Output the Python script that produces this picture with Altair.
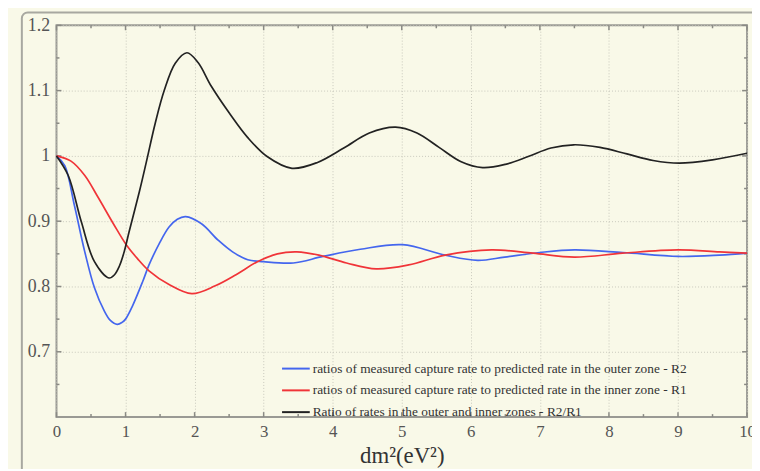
import altair as alt
import pandas as pd

# ---- data ----
x_r2 = [0, 0.12, 0.26, 0.41, 0.55, 0.69, 0.78, 0.88, 0.95, 1.0, 1.1, 1.25, 1.34, 1.49, 1.63, 1.75, 1.87, 2.1, 2.34, 2.55,
        2.77, 3.0, 3.43, 3.86, 4.4, 5.01, 5.63, 6.1, 6.49, 7.0, 7.5, 8.2, 9.0, 9.6, 10]
y_r2 = [1.0, 0.985, 0.924, 0.853, 0.798, 0.763, 0.748, 0.742, 0.745, 0.750, 0.770, 0.808, 0.833, 0.866, 0.891, 0.903, 0.907, 0.896, 0.871, 0.853,
        0.841, 0.838, 0.836, 0.846, 0.857, 0.864, 0.848, 0.840, 0.845, 0.852, 0.856, 0.852, 0.846, 0.848, 0.851]

x_r1 = [0, 0.21, 0.41, 0.6, 0.83, 1.01, 1.17, 1.34, 1.63, 1.96, 2.3, 2.6, 2.91, 3.2, 3.48, 3.8, 4.2, 4.63,
        5.1, 5.63, 6.3, 6.9, 7.5, 8.2, 9.0, 9.6, 10]
y_r1 = [1.0, 0.992, 0.970, 0.937, 0.895, 0.864, 0.843, 0.824, 0.803, 0.789, 0.801, 0.818, 0.838, 0.850, 0.853, 0.848, 0.836, 0.827,
        0.833, 0.848, 0.856, 0.851, 0.845, 0.851, 0.856, 0.853, 0.851]

x_ratio = [0, 0.17, 0.36, 0.55, 0.76, 0.84, 0.91, 0.98, 1.05, 1.2, 1.3, 1.43, 1.56, 1.72, 1.89, 2.05, 2.24, 2.5, 2.77,
           3.05, 3.41, 3.78, 4.16, 4.53, 4.91, 5.22, 5.54, 5.86, 6.17, 6.5, 6.83, 7.16, 7.49, 7.87, 8.26, 8.64,
           9.02, 9.5, 10]
y_ratio = [1.0, 0.970, 0.899, 0.838, 0.813, 0.818, 0.831, 0.853, 0.883, 0.945, 0.990, 1.050, 1.10, 1.142, 1.158, 1.143, 1.107, 1.066, 1.028,
           0.999, 0.981, 0.990, 1.012, 1.035, 1.044, 1.035, 1.013, 0.991, 0.982, 0.987, 0.999, 1.012, 1.017, 1.013, 1.003, 0.993,
           0.989, 0.994, 1.004]

series_names = [
    "ratios of measured capture rate to predicted rate in the outer zone - R2",
    "ratios of measured capture rate to predicted rate in the inner zone - R1",
    "Ratio of rates in the outer and inner zones - R2/R1",
]
series_colors = ["#4466ee", "#f03438", "#222222"]

x_major = [0, 1, 2, 3, 4, 5, 6, 7, 8, 9, 10]
x_minor = [0.5, 1.5, 2.5, 3.5, 4.5, 5.5, 6.5, 7.5, 8.5, 9.5]
y_major = [0.7, 0.8, 0.9, 1.0, 1.1, 1.2]
y_minor = [0.65, 0.75, 0.85, 0.95, 1.05, 1.15]

W, H = 698, 396

frames = []
for name, xs, ys in zip(series_names, [x_r2, x_r1, x_ratio], [y_r2, y_r1, y_ratio]):
    frames.append(pd.DataFrame({"x": xs, "y": ys, "series": name}))
df = pd.concat(frames, ignore_index=True)

xscale = alt.Scale(domain=[0, 10], nice=False, zero=False)
yscale = alt.Scale(domain=[0.6, 1.2], nice=False, zero=False)
serif = "Liberation Serif"

frame = alt.Chart(pd.DataFrame({"a": [0]})).mark_rect(
    filled=False, stroke="#a8a8a0", strokeWidth=2, cornerRadius=6
).encode(x=alt.value(-35), x2=alt.value(760), y=alt.value(-13), y2=alt.value(520))

lines = alt.Chart(df).mark_line(strokeWidth=1.7, interpolate="catmull-rom").encode(
    x=alt.X("x:Q", scale=xscale, axis=alt.Axis(
        values=x_major, title="dm²(eV²)", format="~g", labelFlush=False, grid=True, ticks=False, tickSize=0,
        labelFont=serif, labelFontSize=17, labelColor="#555", labelPadding=7,
        titleFont=serif, titleFontSize=23, titleFontWeight="normal", titleColor="#333", titlePadding=5,
        gridColor="#c8c8bc", gridDash=[1, 2], gridWidth=1, domain=False)),
    y=alt.Y("y:Q", scale=yscale, axis=alt.Axis(
        values=y_major, title=None, format="~g", labelFlush=False, grid=True, ticks=False, tickSize=0,
        labelFont=serif, labelFontSize=18, labelColor="#555", labelPadding=7,
        gridColor="#c8c8bc", gridDash=[1, 2], gridWidth=1, domain=False)),
    color=alt.Color("series:N", scale=alt.Scale(domain=series_names, range=series_colors),
                    legend=alt.Legend(title=None, orient="none", legendX=227, legendY=332,
                                      symbolType="stroke", symbolSize=784, symbolStrokeWidth=2,
                                      labelFont=serif, labelFontSize=13.5, labelColor="#333",
                                      labelOffset=2, rowPadding=-8.5, labelLimit=600)),
)

tick_major_x = pd.DataFrame({"v": x_major})
tick_minor_x = pd.DataFrame({"v": x_minor})
tick_major_y = pd.DataFrame({"v": y_major})
tick_minor_y = pd.DataFrame({"v": y_minor})
tk = dict(color="#8a8a84", strokeWidth=1.5)

def xticks(d, L):
    b = alt.Chart(d).mark_rule(**tk)
    return [
        b.encode(x=alt.X("v:Q", scale=xscale), y=alt.value(H), y2=alt.value(H - L)),
        b.encode(x=alt.X("v:Q", scale=xscale), y=alt.value(0), y2=alt.value(L)),
    ]

def yticks(d, L):
    b = alt.Chart(d).mark_rule(**tk)
    return [
        b.encode(y=alt.Y("v:Q", scale=yscale), x=alt.value(0), x2=alt.value(L)),
        b.encode(y=alt.Y("v:Q", scale=yscale), x=alt.value(W), x2=alt.value(W - L)),
    ]

tick_layers = xticks(tick_major_x, 5) + xticks(tick_minor_x, 3) + yticks(tick_major_y, 5) + yticks(tick_minor_y, 3)

chart = alt.layer(frame, *tick_layers, lines).properties(
    width=W, height=H,
    autosize=alt.AutoSizeParams(type="none"),
    padding={"left": 49, "top": 15, "right": 5, "bottom": 50},
    background="#f9f9e8",
).configure_view(stroke="#9a9a94", strokeWidth=2)

chart.save("out.html", embed_options={"renderer": "svg", "actions": False})
